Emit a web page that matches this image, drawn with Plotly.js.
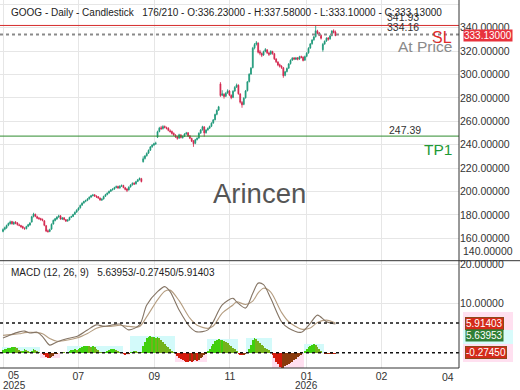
<!DOCTYPE html>
<html><head><meta charset="utf-8">
<script src="https://cdn.plot.ly/plotly-3.0.1.min.js"></script>
<style>html,body{margin:0;padding:0;background:#fff;}#chart{width:520px;height:390px;}</style>
</head><body><div id="chart"></div>
<script>
// ---------- DATA ----------
const symbolTitle = "GOOG - Daily - Candlestick";
const barInfo = "176/210";
const openP = [
166.0,167.8,169.0,171.3,172.6,174.4,172.2,173.9,173.2,171.5,
171.0,170.2,168.5,168.2,170.3,171.5,174.0,178.8,180.5,178.6,
177.5,176.9,176.2,175.0,170.8,166.5,166.0,167.9,172.3,175.2,
176.5,178.4,179.3,176.4,177.6,176.0,174.9,175.8,178.1,178.8,
180.6,182.5,184.3,186.1,188.4,190.3,191.7,192.5,193.8,195.3,
196.6,197.2,196.0,195.6,194.4,192.7,193.7,196.0,197.5,198.8,
200.3,201.6,202.2,203.5,204.4,203.0,204.8,205.2,203.3,202.2,
201.4,204.0,205.8,207.2,206.6,208.7,210.2,211.0,225.5,228.3,
230.6,232.9,235.4,238.3,239.8,241.0,246.5,251.4,254.6,253.8,
255.7,254.6,254.2,252.0,251.4,249.8,248.2,246.9,245.7,248.3,
246.0,247.2,249.3,250.2,247.6,245.4,243.3,241.2,244.4,245.8,
250.0,252.8,255.2,250.3,252.7,254.2,255.8,258.6,261.4,266.0,
269.6,292.0,282.3,283.2,281.5,284.3,285.9,282.2,280.5,286.0,
289.3,290.8,283.3,276.2,274.5,280.1,286.2,294.0,300.5,306.0,
322.8,325.9,326.8,319.4,318.0,316.7,319.8,321.0,318.4,317.5,
319.6,317.8,313.2,310.6,308.4,307.2,305.8,299.3,302.6,305.5,
309.3,312.4,314.2,313.0,314.3,313.2,315.4,314.8,312.3,315.6,
318.5,322.7,326.3,329.7,332.4,337.0,335.5,333.4,321.2,326.1,
328.7,331.2,330.5,333.3,337.3,336.23];
const highP = [
168.6,170.1,171.8,173.5,175.2,175.0,174.5,174.8,173.9,172.6,
171.6,170.8,169.6,170.8,172.4,173.9,179.3,181.9,181.2,179.4,
178.3,177.6,177.0,175.6,171.5,167.6,168.3,172.8,176.1,177.5,
178.9,180.2,179.8,178.3,178.1,176.6,176.4,178.5,179.4,181.0,
183.0,184.9,186.6,188.9,190.8,192.2,193.1,194.4,195.9,197.2,
198.0,197.8,196.9,196.2,195.0,194.3,196.5,198.1,199.4,200.9,
202.2,202.9,204.1,205.2,205.0,205.4,206.1,205.8,204.0,202.9,
204.5,206.3,207.9,208.0,209.2,210.8,212.0,211.7,230.1,231.2,
233.5,236.0,238.9,240.5,241.7,242.6,252.0,255.3,256.1,256.7,
256.4,255.5,254.9,253.2,252.1,250.5,249.0,247.6,249.4,249.1,
248.0,249.9,251.0,250.8,248.2,246.0,244.0,245.0,246.3,250.6,
253.4,256.2,255.9,253.3,254.8,256.4,259.2,262.0,266.6,270.2,
273.2,293.5,286.6,284.0,285.1,287.4,286.8,283.0,286.6,290.1,
292.3,291.6,284.1,277.3,280.6,286.8,294.5,301.1,306.4,323.6,
326.9,328.6,327.5,321.0,318.8,320.4,322.6,321.8,319.2,320.7,
320.3,318.5,314.0,311.4,309.3,307.9,306.5,303.1,306.0,309.8,
312.9,314.8,314.9,315.0,314.9,316.0,316.1,315.5,316.2,319.1,
323.3,326.9,330.2,332.9,342.1,338.2,336.3,334.2,327.0,329.1,
331.8,332.0,333.8,337.9,338.6,337.58];
const lowP = [
165.2,166.9,168.2,170.4,171.9,171.8,171.6,172.1,170.9,170.3,
169.1,167.9,167.3,167.8,169.6,170.8,173.5,177.9,178.1,176.5,
175.9,175.2,174.6,170.4,165.4,164.8,165.3,167.4,171.8,174.6,
175.9,177.5,176.0,175.8,175.4,174.0,174.2,175.3,177.4,178.2,
180.0,181.8,183.7,185.5,187.9,189.6,190.9,191.8,193.1,194.6,
195.8,195.5,194.6,193.8,192.1,192.0,193.2,195.4,196.8,198.1,
199.7,200.8,201.5,202.8,202.3,202.5,203.9,202.8,201.1,199.6,
200.9,203.4,205.1,205.6,206.0,208.1,209.5,207.8,224.8,227.4,
229.9,232.1,234.7,237.4,238.9,239.8,245.8,250.6,252.8,253.0,
253.9,253.1,251.5,250.4,248.8,247.5,245.9,244.3,245.0,245.4,
245.3,246.6,248.5,246.6,244.8,242.3,238.2,240.5,243.7,245.1,
249.3,252.1,246.9,249.5,252.0,253.5,255.1,257.9,260.8,265.2,
268.9,280.9,281.5,279.4,280.8,283.5,281.6,278.9,279.8,285.2,
288.5,282.8,275.2,271.6,273.8,279.5,285.5,293.2,299.7,305.2,
321.5,324.8,318.0,316.5,314.9,315.9,319.0,317.5,315.8,316.8,
316.9,312.4,309.8,307.1,305.9,304.8,297.2,298.5,301.8,304.7,
308.5,311.6,312.3,312.4,312.1,312.5,313.8,311.2,311.6,314.8,
317.8,321.9,325.5,328.9,331.6,334.3,332.8,329.9,319.5,325.4,
327.9,328.9,329.7,332.6,335.1,333.10];
const closeP = [
167.5,169.2,171.0,172.8,174.1,172.5,173.6,173.0,171.8,171.2,
169.9,168.8,168.4,170.1,171.7,173.2,178.5,180.8,178.9,177.3,
176.8,176.0,175.5,171.2,166.3,165.9,167.4,172.0,175.4,176.8,
178.2,179.1,176.6,177.4,176.2,174.8,175.6,177.9,178.6,180.4,
182.3,184.1,185.9,188.2,190.1,191.5,192.3,193.6,195.1,196.4,
197.0,196.2,195.4,194.6,192.9,193.5,195.8,197.3,198.6,200.1,
201.4,202.0,203.3,204.2,203.1,204.6,205.0,203.5,201.9,201.1,
203.8,205.6,207.0,206.4,208.5,210.0,211.3,208.6,228.0,230.4,
232.6,235.2,238.1,239.6,240.8,241.3,251.1,254.2,253.6,255.5,
254.8,254.0,252.3,251.2,249.6,248.4,246.7,245.5,248.5,246.2,
247.0,249.1,250.0,247.4,245.6,243.1,240.9,244.2,245.5,249.8,
252.6,255.4,250.1,252.5,254.0,255.6,258.4,261.2,265.8,269.4,
272.4,282.0,283.5,281.2,284.0,286.1,282.5,280.2,285.7,289.0,
291.1,283.6,276.4,274.1,279.8,285.9,293.7,300.2,305.4,322.5,
325.6,327.1,319.0,318.2,316.4,319.5,321.3,318.6,317.2,319.8,
318.0,313.4,310.9,308.2,307.0,306.1,299.0,302.3,305.2,309.0,
312.1,314.0,313.2,314.1,313.0,315.2,314.6,312.0,315.3,318.2,
322.4,326.0,329.4,332.1,337.4,335.2,333.6,331.0,325.8,328.4,
331.0,330.2,333.0,337.1,336.0,333.13];

// MACD / signal lines (sampled along the bar index)
const macdIdx = [0,4,9,12,15,19,22,26,30,36,41,47,52,56,60,65,70,76,80,86,90,93,98,104,108,114,117,122,128,130,135,139,142,145,149,155,159,166,171,175,180,185];
const macdLine = [1.0,1.8,2.6,2.8,2.3,2.5,1.4,-0.8,0.0,0.9,1.4,3.1,4.4,4.0,4.3,4.6,3.1,4.4,9.5,12.9,14.2,12.9,8.2,3.9,2.6,3.1,5.2,9.5,11.2,10.3,8.7,12.5,15.1,14.7,11.2,5.2,3.5,2.5,4.8,6.9,5.2,4.6];
const signalLine = [1.7,1.9,2.1,2.4,2.5,2.4,2.1,0.9,0.2,0.5,1.0,2.2,3.5,4.0,4.0,4.3,4.0,4.0,6.5,10.8,13.0,13.3,10.6,6.1,4.3,3.5,4.1,7.4,9.5,10.3,9.6,10.5,12.6,13.8,12.8,7.6,5.2,3.3,3.6,5.0,5.6,4.85];
// histogram per bar
const histVals = [
0.8,0.9,1.0,1.1,1.2, 1.4,1.5,1.4,1.2, 0.7,0.4, 0.5,0.9, 0.8,0.5,0.3, 0.5,0.9,0.8,0.4,
0.1,-0.1,-0.3,-0.6, -1.0,-1.4,-1.3,-1.1,-0.7,-0.4, -0.2,-0.1,0.1,0.2,0.1,-0.1,
0.3,0.5,0.6, 0.8,0.9,0.7,
1.0,1.3,1.5,1.6,1.7,1.7,1.6,1.5,1.6,1.4,1.0,0.6,
0.3,0.1,0.0,0.2,0.4,0.6, 0.9,1.0,1.0,0.8,0.5, 0.2,0.0, -0.3,-0.5,-0.4,-0.2,
0.1,0.3,0.5,0.4,0.3,0.3,0.1,
1.8,2.8,3.6,4.0,4.1,3.9,4.0,3.8,3.9, 3.6,3.3,2.8,2.2,1.7,1.4, 0.9,0.4,0.1,-0.2,
-0.7,-1.2,-1.6,-1.9,-2.1,-2.2,-2.25,-2.1,-2.2,-2.0,-1.9,-2.0,-1.7,-1.4,-1.0,-0.6,-0.2,
0.4,1.0,1.7,2.3,2.9,3.3,3.4,3.2,3.3,3.0,2.8,2.4,2.0,1.6,1.3,0.9,0.5,
-0.2,-0.5,-0.6,-0.5,-0.3,0.1,
0.9,2.0,3.2,3.6,3.5,3.0,2.5, 2.0,1.6,1.3,1.0,0.6,
0.1,-0.6,-1.4,-2.2,-2.9,-3.5,-3.9,-3.8,-3.4,-3.0,-2.8,-2.5,-2.2,-1.8,-1.5,-1.1,-0.8,-0.5,-0.1,
0.4,0.9,1.4,1.8,2.0,2.1,1.9,1.4,0.9,0.4,
0.0,-0.2,-0.3,-0.2,-0.3,-0.2,-0.3,-0.27];

const macdLabelVals = [5.63953, -0.27450, 5.91403]; // MACD / hist / signal text
const slLevel = 341.93, entryLevel = 334.16, tp1Level = 247.39;
const xTickIdx = [0, 41.9, 84.2, 126.3, 169, 210.7];
const xTickText = ["", "07", "09", "11", "01", "02"];
const yearLabels = ["2025", "2026"];
const watermark = "Arincen";

// ---------- BUILD ----------
const N = closeP.length;
const idx = Array.from({length: N}, (_, i) => i);
const W = 459, H = 368; // plot area in px
const P = (px, py) => ({x: px / W, y: (H - py) / H});

const histColors = histVals.map((h, i) => {
  const prev = i > 0 ? histVals[i - 1] : h;
  if (h >= 0) return h >= prev ? '#3fcf0e' : '#74b21c';
  return h <= prev ? '#d4190b' : '#8a3a0c';
});
// sign segments -> background bands
const band = new Array(N), bandCol = new Array(N);
let s = 0;
while (s < N) {
  const pos = histVals[s] >= 0;
  let e = s;
  while (e + 1 < N && (histVals[e + 1] >= 0) === pos) e++;
  let ext = 0;
  for (let k = s; k <= e; k++) ext = pos ? Math.max(ext, histVals[k]) : Math.min(ext, histVals[k]);
  for (let k = s; k <= e; k++) { band[k] = ext; bandCol[k] = pos ? '#d3fafa' : '#ffdff0'; }
  s = e + 1;
}

const traces = [
  {type: 'bar', x: idx, y: band, width: 1, marker: {color: bandCol, line: {width: 0}},
   xaxis: 'x', yaxis: 'y3', hoverinfo: 'skip'},
  {type: 'bar', x: idx, y: histVals, width: 1, marker: {color: histColors, line: {width: 0}},
   xaxis: 'x', yaxis: 'y3'},
  {type: 'scatter', mode: 'lines', x: macdIdx, y: signalLine, xaxis: 'x', yaxis: 'y2',
   line: {color: '#b59e82', width: 1.1, shape: 'spline', smoothing: 0.8}},
  {type: 'scatter', mode: 'lines', x: macdIdx, y: macdLine, xaxis: 'x', yaxis: 'y2',
   line: {color: '#857565', width: 1.1, shape: 'spline', smoothing: 0.8}},
  {type: 'candlestick', x: idx, open: openP, high: highP, low: lowP, close: closeP,
   xaxis: 'x', yaxis: 'y', whiskerwidth: 0,
   increasing: {line: {color: '#1a9676', width: 0.8}, fillcolor: '#1fa47f'},
   decreasing: {line: {color: '#d2224a', width: 0.8}, fillcolor: '#dc2850'}}
];

const fnt = 'Liberation Sans, Arial, sans-serif';
const last = N - 1;
const headerText = symbolTitle + '\u00a0\u00a0\u00a0' + barInfo +
  ' - O:' + openP[last].toFixed(5) + ' - H:' + highP[last].toFixed(5) +
  ' - L:' + lowP[last].toFixed(5) + ' - C:' + closeP[last].toFixed(5);
const lastSignal = signalLine[signalLine.length - 1];

function ann(text, px, py, opts) {
  const p = P(px, py);
  return Object.assign({text: text, x: p.x, y: p.y, xref: 'paper', yref: 'paper', showarrow: false,
    xanchor: 'center', yanchor: 'middle', font: {family: fnt, size: 10.5, color: '#333'}}, opts || {});
}
function rectPx(x0, y0, x1, y1, color) {
  const a = P(x0, y0), b = P(x1, y1);
  return {type: 'rect', xref: 'paper', yref: 'paper', x0: a.x, x1: b.x, y0: a.y, y1: b.y,
    fillcolor: color, line: {width: 0}, layer: 'above'};
}

const annotations = [
  ann(headerText, 8.5, 12.5, {xanchor: 'left', font: {family: fnt, size: 10, color: '#222'}}),
  ann(slLevel.toFixed(2), 421, 17.5, {xanchor: 'right'}),
  ann(entryLevel.toFixed(2), 421, 27.5, {xanchor: 'right'}),
  ann(tp1Level.toFixed(2), 423, 129.5, {xanchor: 'right'}),
  ann('SL', 454, 37.5, {xanchor: 'right', font: {family: fnt, size: 16, color: '#e02a2a'}}),
  ann('At Price', 454, 46.5, {xanchor: 'right', font: {family: fnt, size: 15.5, color: '#8a8a8a'}}),
  ann('TP1', 454, 149.7, {xanchor: 'right', font: {family: fnt, size: 15.5, color: '#1e9a36'}}),
  ann(watermark, 259.5, 193.5, {font: {family: fnt, size: 27.5, color: '#555'}}),
  ann(closeP[last].toFixed(5), 488, 35.5, {bgcolor: '#e8323c', borderpad: 0, font: {family: fnt, size: 10, color: '#fff'}}),
  ann((140).toFixed(5), 461, 251, {xanchor: 'left'}),
  ann('MACD (12, 26, 9)\u00a0\u00a0\u00a0' + macdLabelVals[0].toFixed(5) + '/' + macdLabelVals[1].toFixed(5) + '/' + macdLabelVals[2].toFixed(5),
      8.5, 272.7, {xanchor: 'left', font: {family: fnt, size: 10, color: '#222'}}),
  ann(macdLabelVals[2].toFixed(5), 484, 323.3, {bgcolor: '#d42a1a', bordercolor: '#8a4a1a', borderwidth: 1, borderpad: 0, font: {family: fnt, size: 10, color: '#fff'}}),
  ann(macdLabelVals[0].toFixed(5), 484, 335.8, {bgcolor: '#2f7f35', borderpad: 0, font: {family: fnt, size: 10, color: '#fff'}}),
  ann(macdLabelVals[1].toFixed(5), 486, 352.7, {bgcolor: '#d42a1a', bordercolor: '#8a4a1a', borderwidth: 1, borderpad: 0, font: {family: fnt, size: 10, color: '#fff'}}),
  ann('05', 14, 375.5, {font: {family: fnt, size: 10, color: '#333'}}),
  ann(yearLabels[0], 14, 385.5, {font: {family: fnt, size: 10, color: '#333'}}),
  ann(yearLabels[1], 306.5, 385.5, {font: {family: fnt, size: 10, color: '#333'}}),
  ann('04', 447.7, 376.5)
];

const shapes = [
  rectPx(463, 312, 513, 333, '#ffe0f0'),
  rectPx(463, 330, 513, 346, '#d8fbfb'),
  rectPx(463, 344, 513, 362, '#ffe0f0'),
  {type: 'line', xref: 'paper', x0: 0, x1: 1, yref: 'y', y0: slLevel, y1: slLevel, line: {color: '#d42a2a', width: 1}},
  {type: 'line', xref: 'paper', x0: 0, x1: 1, yref: 'y', y0: entryLevel, y1: entryLevel, line: {color: '#8a8a8a', width: 2, dash: 'dot'}},
  {type: 'line', xref: 'paper', x0: 0, x1: 1, yref: 'y', y0: tp1Level, y1: tp1Level, line: {color: '#2e8b2e', width: 1}},
  {type: 'line', xref: 'paper', x0: 0, x1: 1, yref: 'y2', y0: lastSignal, y1: lastSignal, line: {color: '#111', width: 1.5, dash: 'dot'}},
  {type: 'line', xref: 'paper', x0: 0, x1: 1, yref: 'y3', y0: 0, y1: 0, line: {color: '#111', width: 1.5, dash: 'dot'}},
  {type: 'line', xref: 'paper', yref: 'paper', x0: 1, x1: 1, y0: 0, y1: 1, line: {color: '#333', width: 1}},
  {type: 'line', xref: 'paper', yref: 'paper', x0: 0, x1: 1, y0: 0, y1: 0, line: {color: '#333', width: 1}},
  {type: 'line', xref: 'paper', yref: 'paper', x0: 0, x1: 520 / W, y0: (H - 260.7) / H, y1: (H - 260.7) / H, line: {color: '#333', width: 1}}
];

const layout = {
  width: 520, height: 390,
  margin: {l: 0, r: 61, t: 0, b: 22, pad: 0},
  paper_bgcolor: '#fff', plot_bgcolor: '#fff',
  showlegend: false, barmode: 'overlay', bargap: 0,
  font: {family: fnt, size: 10.5, color: '#333'},
  xaxis: {range: [-1.67, 253.76], tickmode: 'array', tickvals: xTickIdx, ticktext: xTickText,
    showgrid: true, gridcolor: '#e6e6e6', gridwidth: 1, zeroline: false, showline: false, ticks: '',
    anchor: 'y2', rangeslider: {visible: false}, tickfont: {size: 10.5, color: '#333'}},
  yaxis: {domain: [(H - 260.7) / H, 1], range: [140.95, 363.66], side: 'right', anchor: 'x',
    tick0: 0, dtick: 20, tickformat: '.5f', showgrid: true, gridcolor: '#e6e6e6', zeroline: false,
    ticks: '', showline: false, tickfont: {size: 10.5, color: '#333'}},
  yaxis2: {domain: [0, (H - 260.7) / H], range: [-6.67, 20.85], side: 'right', anchor: 'x',
    tickmode: 'array', tickvals: [10, 20], tickformat: '.5f', showgrid: true, gridcolor: '#e6e6e6',
    zeroline: false, ticks: '', showline: false, tickfont: {size: 10.5, color: '#333'}},
  yaxis3: {overlaying: 'y2', range: [-3.825, 23], visible: false, showgrid: false, zeroline: false},
  annotations: annotations,
  shapes: shapes
};

Plotly.newPlot('chart', traces, layout, {displayModeBar: false, staticPlot: true});
</script>
</body></html>
